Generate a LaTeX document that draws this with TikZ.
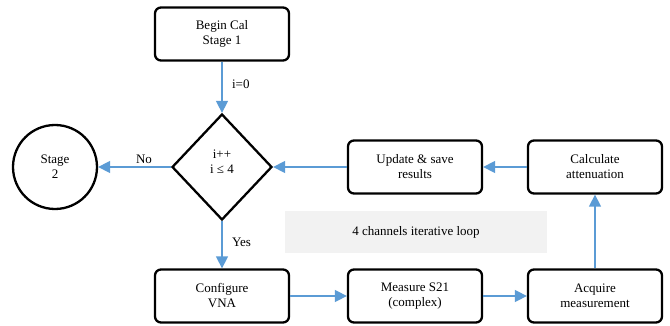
\documentclass[tikz,border=0pt]{standalone}
\usepackage{fontspec}
\setmainfont{Liberation Serif}
\usetikzlibrary{shapes.geometric,arrows.meta}
\definecolor{arrowblue}{HTML}{5B9BD5}
\definecolor{loopgray}{HTML}{F2F2F2}
\begin{document}
\begin{tikzpicture}[x=1pt,y=-1pt,
  every node/.style={font=\fontsize{13}{15}\selectfont, align=center},
  procbox/.style={draw=black, line width=2.3pt, rounded corners=6pt, minimum width=134pt, minimum height=53pt, inner sep=0pt},
  decbox/.style={draw=black, line width=2.3pt, shape=diamond, minimum width=100pt, minimum height=106pt, inner sep=0pt},
  endcirc/.style={draw=black, line width=2.3pt, shape=circle, minimum size=84pt, inner sep=0pt},
  flow/.style={draw=arrowblue, line width=1.5pt, -{Triangle[length=12pt,width=12pt]}},
  lbl/.style={font=\fontsize{13}{15}\selectfont}
]
\useasboundingbox (0,0) rectangle (670,326);
\node[fill=loopgray, minimum width=262pt, minimum height=41pt, inner sep=0pt] (loop) at (416,232) {4 channels iterative loop};
\node[procbox] (begin) at (222,34) {Begin Cal\\Stage 1};
\node[decbox] (dec) at (222,167) {};
\node (dectext) at (222,162) {i++\\i ≤ 4};
\node[endcirc] (stage2) at (55,167) {Stage\\2};
\node[procbox] (update) at (415,167) {Update \& save\\results};
\node[procbox] (calc) at (595,167) {Calculate\\attenuation};
\node[procbox] (config) at (222,296) {Configure\\VNA};
\node[procbox] (meas) at (415,296) {Measure S21\\(complex)};
\node[procbox] (acq) at (595,296) {Acquire\\measurement};

\draw[flow] (begin) -- node[lbl, right, pos=0.45, xshift=6pt] {i=0} (dec);
\draw[flow] (dec) -- node[lbl, above, pos=0.37, yshift=-1pt] {No} (stage2);
\draw[flow] (dec) -- node[lbl, right, pos=0.45, xshift=6pt] {Yes} (config);
\draw[flow] (config) -- (meas);
\draw[flow] (meas) -- (acq);
\draw[flow] (acq) -- (calc);
\draw[flow] (calc) -- (update);
\draw[flow] (update) -- (dec);
\end{tikzpicture}
\end{document}
